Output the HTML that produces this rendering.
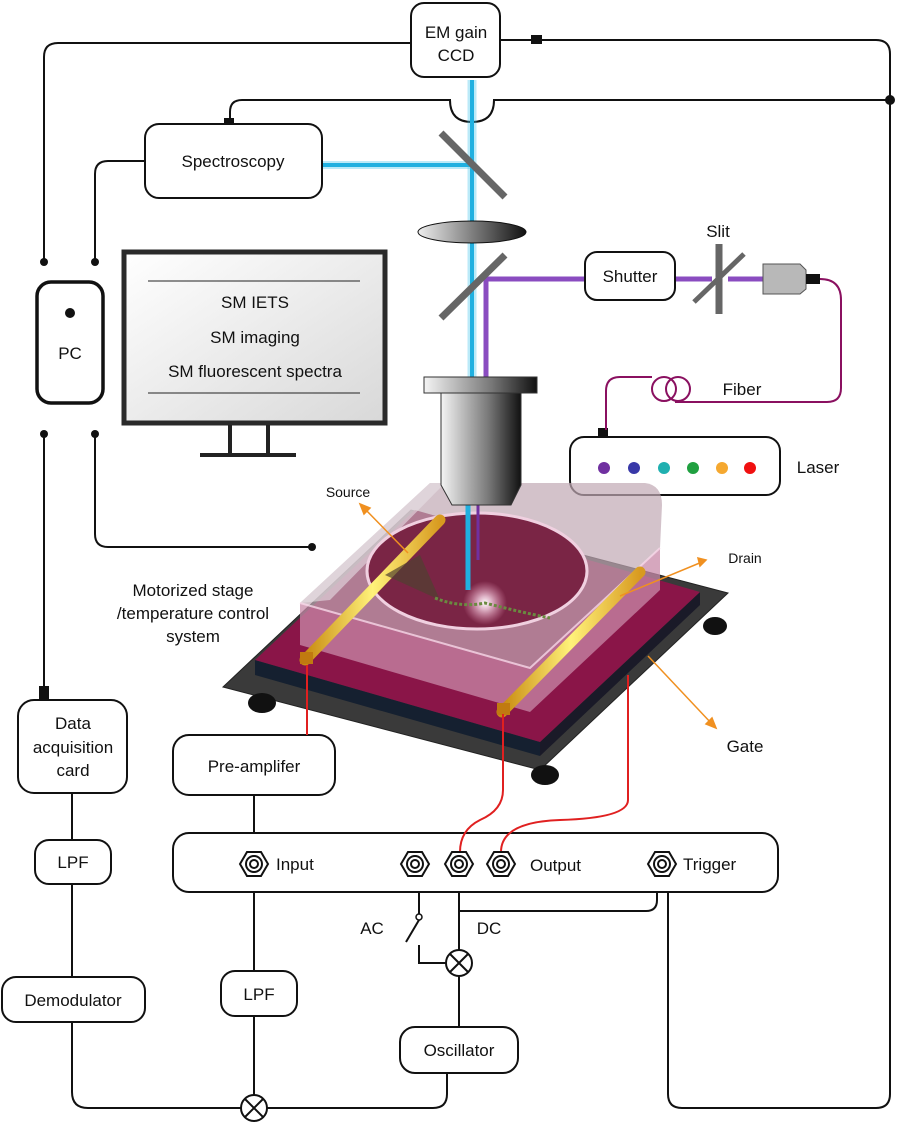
<!DOCTYPE html>
<html><head><meta charset="utf-8"><style>html,body{margin:0;padding:0;background:#fff}svg{display:block}text{font-family:"Liberation Sans",Arial,sans-serif;fill:#111}</style></head>
<body>
<svg width="898" height="1125" viewBox="0 0 898 1125" xmlns="http://www.w3.org/2000/svg">
<defs>
<linearGradient id="lens" x1="0" x2="1"><stop offset="0" stop-color="#eee"/><stop offset="1" stop-color="#111"/></linearGradient>
<linearGradient id="obj" x1="0" x2="1"><stop offset="0" stop-color="#f4f4f4"/><stop offset="0.6" stop-color="#777"/><stop offset="1" stop-color="#111"/></linearGradient>
<linearGradient id="mon" x1="0" y1="0" x2="1" y2="1"><stop offset="0" stop-color="#fff"/><stop offset="1" stop-color="#d8d8d8"/></linearGradient>
<linearGradient id="gold" x1="0" x2="1"><stop offset="0" stop-color="#c88a10"/><stop offset="0.5" stop-color="#fff27a"/><stop offset="1" stop-color="#d89a20"/></linearGradient>
<radialGradient id="glow"><stop offset="0" stop-color="#fff"/><stop offset="0.3" stop-color="#f8d8e8" stop-opacity="0.8"/><stop offset="1" stop-color="#f0a0c0" stop-opacity="0"/></radialGradient>
</defs>
<g fill="none" stroke="#111" stroke-width="2">
<path d="M411 43 H58 Q44 43 44 57 V262"/>
<path d="M500 40 H876 Q890 40 890 54 V1094 Q890 1108 876 1108 H682 Q668 1108 668 1094 V880"/>
<path d="M890 100 H494 Q494 122 472 122 Q450 122 450 100 H242 Q230 100 230 112 V124"/>
<path d="M145 161 H108 Q95 161 95 174 V262"/>
<path d="M44 434 V690"/>
<path d="M95 434 V534 Q95 547 108 547 H312"/>
<path d="M72 793 V840 M72 884 V977"/>
<path d="M72 1022 V1092 Q72 1108 88 1108 H241 M267 1108 H433 Q447 1108 447 1094 V1073"/>
<path d="M459 1027 V976 M459 950 V892"/>
<path d="M459 911 H646 Q657 911 657 900 V886"/>
<path d="M254 795 V852 M254 876 V971 M254 1016 V1095"/>
<path d="M419 892 V914 M419 920 L406 942 M419 945 V963 H446"/>
</g>
<circle cx="44" cy="262" r="4" fill="#111"/><circle cx="95" cy="262" r="4" fill="#111"/>
<circle cx="44" cy="434" r="4" fill="#111"/><circle cx="95" cy="434" r="4" fill="#111"/>
<circle cx="312" cy="547" r="4" fill="#111"/><circle cx="890" cy="100" r="5" fill="#111"/>
<rect x="531" y="35" width="11" height="9" fill="#111"/><rect x="224" y="118" width="10" height="8" fill="#111"/>
<rect x="39" y="686" width="10" height="14" fill="#111"/><rect x="598" y="428" width="10" height="9" fill="#111"/>
<circle cx="419" cy="917" r="3" fill="#fff" stroke="#111" stroke-width="1.5"/>
<g stroke-linecap="butt">
<path d="M472 80 V378" stroke="#3ec4ec" stroke-width="9" opacity="0.35"/>
<path d="M472 80 V378" stroke="#20b0e0" stroke-width="4"/>
<path d="M322 165 H472" stroke="#3ec4ec" stroke-width="8" opacity="0.35"/>
<path d="M322 165 H472" stroke="#20b0e0" stroke-width="4"/>
<path d="M486 378 V279 H585 M675 279 H712 M728 279 H763" stroke="#8a4cc0" stroke-width="5" fill="none"/>
</g>
<path d="M441 133 L505 197" stroke="#666" stroke-width="7"/>
<path d="M441 318 L505 255" stroke="#666" stroke-width="7"/>
<ellipse cx="472" cy="232" rx="54" ry="11" fill="url(#lens)" stroke="#111"/>
<path d="M719 244 V314" stroke="#666" stroke-width="7"/>
<path d="M694 302 L744 254" stroke="#666" stroke-width="5"/>
<path d="M763 264 H800 L806 270 V289 L800 294 H763 Z" fill="#b8b8b8" stroke="#555"/>
<rect x="806" y="274" width="14" height="10" fill="#111"/>
<g fill="none" stroke="#8a1060" stroke-width="2">
<path d="M820 279 Q841 279 841 300 V388 Q841 402 827 402 H675"/>
<circle cx="664" cy="389" r="12"/><circle cx="678" cy="389" r="12"/>
<path d="M652 377 H620 Q606 377 606 391 V430"/>
</g>
<g fill="#fff" stroke="#111" stroke-width="2">
<rect x="411" y="3" width="89" height="74" rx="13"/>
<rect x="145" y="124" width="177" height="74" rx="14"/>
<rect x="585" y="252" width="90" height="48" rx="12"/>
<rect x="570" y="437" width="210" height="58" rx="14"/>
<rect x="37" y="282" width="66" height="121" rx="14" stroke-width="3.5"/>
<rect x="18" y="700" width="109" height="93" rx="16"/>
<rect x="35" y="840" width="76" height="44" rx="14"/>
<rect x="2" y="977" width="143" height="45" rx="14"/>
<rect x="173" y="735" width="162" height="60" rx="16"/>
<rect x="173" y="833" width="605" height="59" rx="16"/>
<rect x="221" y="971" width="76" height="45" rx="14"/>
<rect x="400" y="1027" width="118" height="46" rx="15"/>
</g>
<circle cx="70" cy="313" r="5" fill="#111"/>
<g stroke="#111" stroke-width="2" fill="#fff">
<circle cx="254" cy="1108" r="13"/><path d="M245 1099 L263 1117 M263 1099 L245 1117"/>
<circle cx="459" cy="963" r="13"/><path d="M450 954 L468 972 M468 954 L450 972"/>
</g>
<circle cx="604" cy="468" r="6" fill="#7030a0"/><circle cx="634" cy="468" r="6" fill="#3838a8"/>
<circle cx="664" cy="468" r="6" fill="#20b0b0"/><circle cx="693" cy="468" r="6" fill="#20a040"/>
<circle cx="722" cy="468" r="6" fill="#f5a830"/><circle cx="750" cy="468" r="6" fill="#f01010"/>
<rect x="124" y="252" width="261" height="171" fill="url(#mon)" stroke="#2a2a2a" stroke-width="5"/>
<path d="M148 281 H360 M148 393 H360" stroke="#222" stroke-width="1"/>
<path d="M230 425 V455 M268 425 V455 M200 455 H296" stroke="#222" stroke-width="4"/>
<!-- stage -->
<polygon points="223,687 540,770 728,593 411,510" fill="#3a3a3a" stroke="#222"/>
<ellipse cx="262" cy="703" rx="14" ry="10" fill="#111"/><ellipse cx="545" cy="775" rx="14" ry="10" fill="#111"/><ellipse cx="715" cy="626" rx="12" ry="9" fill="#111"/>
<polygon points="255,660 540,742 540,756 255,675" fill="#152030"/>
<polygon points="540,742 700,592 700,605 540,756" fill="#1a1a28"/>
<polygon points="255,660 540,742 700,592 415,510" fill="#8a1548"/>
<!-- glass block -->
<polygon points="300,603 300,645 530,712 660,590 660,548 530,668" fill="#c88aa8" opacity="0.75"/>
<path d="M300 603 L430 483 L645 483 Q662 485 662 505 L660 548 L530 668 Z" fill="#c0a8b4" opacity="0.7"/>
<polygon points="300,603 430,483 445,483 330,600" fill="#e8e0e4" opacity="0.6"/>
<ellipse cx="477" cy="571" rx="110" ry="58" fill="#7a2545" stroke="#f0d0e0" stroke-width="3"/>
<path d="M300 603 L530 668 L660 548" stroke="#f8d8e8" stroke-width="2" fill="none" opacity="0.8"/>
<path d="M305 660 L440 520" stroke="url(#gold)" stroke-width="11" stroke-linecap="round"/>
<path d="M502 712 L640 572" stroke="url(#gold)" stroke-width="11" stroke-linecap="round"/>
<rect x="300" y="652" width="13" height="12" fill="#c07a10"/><rect x="497" y="703" width="13" height="12" fill="#c07a10"/>
<path d="M468 488 V590" stroke="#20b0e0" stroke-width="5"/>
<path d="M478 488 V560" stroke="#7030a0" stroke-width="3"/>
<path d="M385 575 L420 555 L440 600 Z" fill="#504030" opacity="0.7"/>
<circle cx="485" cy="603" r="22" fill="url(#glow)"/>
<path d="M435 598 Q460 608 485 603 Q520 612 550 618" stroke="#6a8a40" stroke-width="3" fill="none" stroke-dasharray="3 2"/>
<!-- objective -->
<rect x="424" y="377" width="113" height="16" fill="url(#obj)" stroke="#333"/>
<path d="M441 393 H521 V485 L511 505 H452 L441 485 Z" fill="url(#obj)" stroke="#333"/>
<g stroke="#e02020" stroke-width="2" fill="none">
<path d="M307 665 V735"/><path d="M503 714 V790 Q503 810 480 820 Q460 830 460 852"/><path d="M628 675 V800 Q628 818 560 820 Q501 822 501 852"/>
</g>
<g stroke="#f09020" stroke-width="1.5" fill="#f09020">
<path d="M408 553 L363 507"/><path d="M360 504 L370 508 L364 514 Z"/>
<path d="M620 596 L702 562"/><path d="M706 560 L698 558 L700 566 Z"/>
<path d="M648 656 L712 724"/><path d="M716 728 L706 724 L712 718 Z"/>
</g>
<g fill="#fff" stroke="#111" stroke-width="2">
<g transform="translate(254,864)"><polygon points="-14,0 -7,-12 7,-12 14,0 7,12 -7,12"/><circle r="8"/><circle r="4"/></g>
<g transform="translate(415,864)"><polygon points="-14,0 -7,-12 7,-12 14,0 7,12 -7,12"/><circle r="8"/><circle r="4"/></g>
<g transform="translate(459,864)"><polygon points="-14,0 -7,-12 7,-12 14,0 7,12 -7,12"/><circle r="8"/><circle r="4"/></g>
<g transform="translate(501,864)"><polygon points="-14,0 -7,-12 7,-12 14,0 7,12 -7,12"/><circle r="8"/><circle r="4"/></g>
<g transform="translate(662,864)"><polygon points="-14,0 -7,-12 7,-12 14,0 7,12 -7,12"/><circle r="8"/><circle r="4"/></g>
</g>
<g font-size="17" text-anchor="middle">
<text x="456" y="38">EM gain</text><text x="456" y="61">CCD</text>
<text x="233" y="167">Spectroscopy</text>
<text x="630" y="282">Shutter</text>
<text x="718" y="237">Slit</text>
<text x="742" y="395">Fiber</text>
<text x="818" y="473">Laser</text>
<text x="70" y="359">PC</text>
<text x="255" y="308">SM IETS</text><text x="255" y="343">SM imaging</text><text x="255" y="377">SM fluorescent spectra</text>
<text x="193" y="596">Motorized stage</text><text x="193" y="619">/temperature control</text><text x="193" y="642">system</text>
<text x="745" y="752">Gate</text>
<text x="73" y="729">Data</text><text x="73" y="753">acquisition</text><text x="73" y="776">card</text>
<text x="73" y="868">LPF</text>
<text x="73" y="1006">Demodulator</text>
<text x="254" y="772">Pre-amplifer</text>
<text x="259" y="1000">LPF</text>
<text x="459" y="1056">Oscillator</text>
<text x="372" y="934">AC</text><text x="489" y="934">DC</text>
</g>
<g font-size="17">
<text x="276" y="870">Input</text><text x="530" y="871">Output</text><text x="683" y="870">Trigger</text>
</g>
<g font-size="14" text-anchor="middle">
<text x="348" y="497">Source</text><text x="745" y="563">Drain</text>
</g>
</svg>
</body></html>
